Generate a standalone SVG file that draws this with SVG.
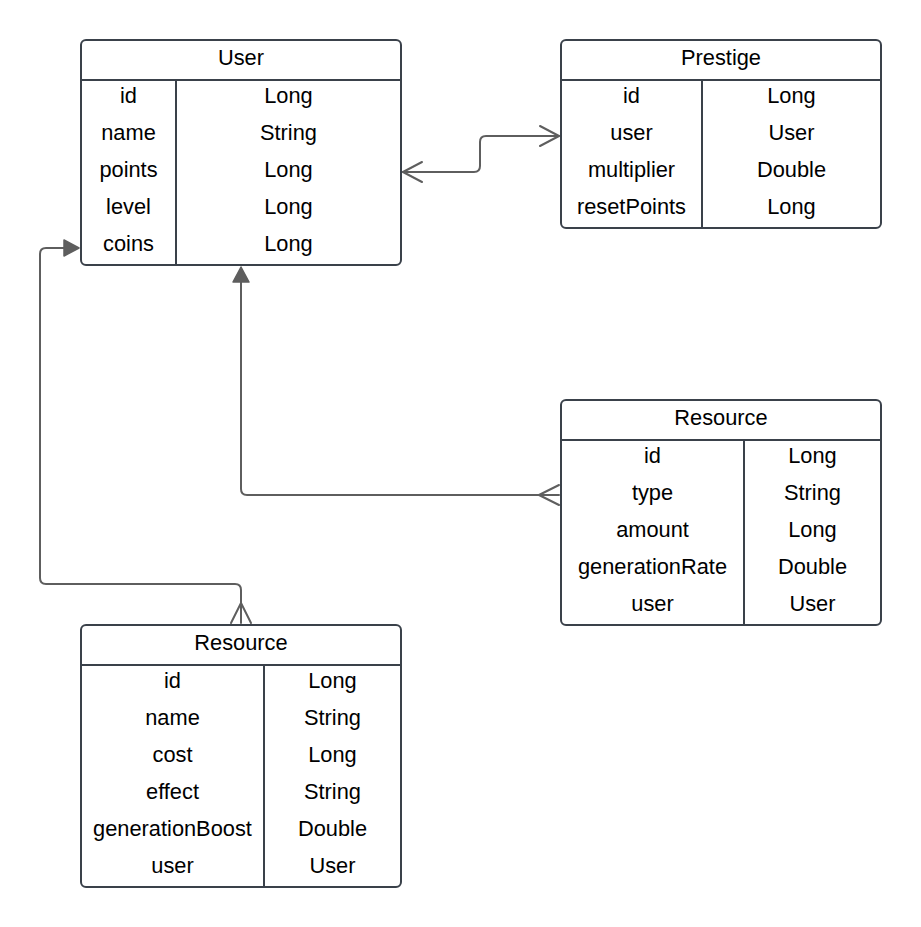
<svg xmlns="http://www.w3.org/2000/svg" width="921" height="927" viewBox="0 0 921 927">
<style>
.box{fill:#ffffff;stroke:#3a414a;stroke-width:2}
.ln{stroke:#3a414a;stroke-width:2;fill:none}
.t{font-family:"Liberation Sans",Arial,sans-serif;font-size:21.8px;fill:#000000;text-anchor:middle}
.c{fill:none;stroke:#5e5e5e;stroke-width:2;stroke-linejoin:round;stroke-linecap:round}
.fa{fill:#5e5e5e;stroke:#5e5e5e;stroke-width:1.5;stroke-linejoin:round}
</style>
<rect width="921" height="927" fill="#ffffff"/>
<g id="connectors">
<path class="c" d="M403,172 H474 Q480,172 480,166 V142 Q480,136 486,136 H559"/>
<path class="c" d="M422,162 L403,172 L422,182"/>
<path class="c" d="M540,126 L559,136 L540,146"/>
<path class="c" d="M241,623 V590 Q241,584 235,584 H46 Q40,584 40,578 V254 Q40,248 46,248 H64"/>
<polygon class="fa" points="64,240 79,248 64,256"/>
<path class="c" d="M231,623 L241,603 L251,623"/>
<path class="c" d="M559,495 H247 Q241,495 241,489 V282"/>
<polygon class="fa" points="233,282 241,267 249,282"/>
<path class="c" d="M559,485 L539,495 L559,505"/>
</g>
<g id="user">
<rect class="box" x="81" y="40" width="320" height="225" rx="5"/>
<line class="ln" x1="81" y1="80" x2="401" y2="80"/>
<line class="ln" x1="176" y1="80" x2="176" y2="265"/>
<text class="t" x="241" y="65">User</text>
<text class="t" x="128.5" y="103">id</text><text class="t" x="288.5" y="103">Long</text>
<text class="t" x="128.5" y="140">name</text><text class="t" x="288.5" y="140">String</text>
<text class="t" x="128.5" y="177">points</text><text class="t" x="288.5" y="177">Long</text>
<text class="t" x="128.5" y="214">level</text><text class="t" x="288.5" y="214">Long</text>
<text class="t" x="128.5" y="251">coins</text><text class="t" x="288.5" y="251">Long</text>
</g>
<g id="prestige">
<rect class="box" x="561" y="40" width="320" height="188" rx="5"/>
<line class="ln" x1="561" y1="80" x2="881" y2="80"/>
<line class="ln" x1="702" y1="80" x2="702" y2="228"/>
<text class="t" x="721" y="65">Prestige</text>
<text class="t" x="631.5" y="103">id</text><text class="t" x="791.5" y="103">Long</text>
<text class="t" x="631.5" y="140">user</text><text class="t" x="791.5" y="140">User</text>
<text class="t" x="631.5" y="177">multiplier</text><text class="t" x="791.5" y="177">Double</text>
<text class="t" x="631.5" y="214">resetPoints</text><text class="t" x="791.5" y="214">Long</text>
</g>
<g id="resource-right">
<rect class="box" x="561" y="400" width="320" height="225" rx="5"/>
<line class="ln" x1="561" y1="440" x2="881" y2="440"/>
<line class="ln" x1="744" y1="440" x2="744" y2="625"/>
<text class="t" x="721" y="425">Resource</text>
<text class="t" x="652.5" y="463">id</text><text class="t" x="812.5" y="463">Long</text>
<text class="t" x="652.5" y="500">type</text><text class="t" x="812.5" y="500">String</text>
<text class="t" x="652.5" y="537">amount</text><text class="t" x="812.5" y="537">Long</text>
<text class="t" x="652.5" y="574">generationRate</text><text class="t" x="812.5" y="574">Double</text>
<text class="t" x="652.5" y="611">user</text><text class="t" x="812.5" y="611">User</text>
</g>
<g id="resource-bottom">
<rect class="box" x="81" y="625" width="320" height="262" rx="5"/>
<line class="ln" x1="81" y1="665" x2="401" y2="665"/>
<line class="ln" x1="264" y1="665" x2="264" y2="887"/>
<text class="t" x="241" y="650">Resource</text>
<text class="t" x="172.5" y="688">id</text><text class="t" x="332.5" y="688">Long</text>
<text class="t" x="172.5" y="725">name</text><text class="t" x="332.5" y="725">String</text>
<text class="t" x="172.5" y="762">cost</text><text class="t" x="332.5" y="762">Long</text>
<text class="t" x="172.5" y="799">effect</text><text class="t" x="332.5" y="799">String</text>
<text class="t" x="172.5" y="836">generationBoost</text><text class="t" x="332.5" y="836">Double</text>
<text class="t" x="172.5" y="873">user</text><text class="t" x="332.5" y="873">User</text>
</g>
</svg>
